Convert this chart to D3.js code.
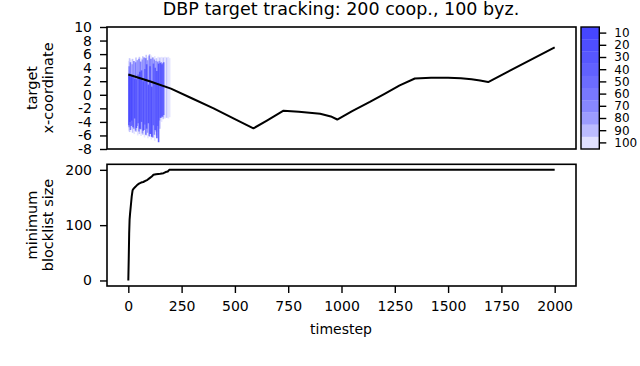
<!DOCTYPE html>
<meta charset="utf-8">
<style>
  body { margin: 0; background: #fff; }
  svg { display: block; font-family: "DejaVu Sans", sans-serif; }
</style>
<svg width="640" height="366"></svg>
<script src="https://d3js.org/d3.v7.min.js"></script>
<script>

// target trajectory (timestep, x-coordinate)
var trackT = [0, 100, 200, 300, 400, 500, 587, 650, 728, 800, 900, 950, 980, 1050, 1133, 1200, 1273, 1344, 1420, 1500, 1560, 1610, 1650, 1688, 2000];
var trackX = [3.0, 2.0, 0.9, -0.55, -2.0, -3.6, -4.95, -3.8, -2.35, -2.5, -2.8, -3.2, -3.65, -2.4, -1.05, 0.1, 1.4, 2.4, 2.5, 2.52, 2.45, 2.3, 2.1, 1.88, 7.0];

// estimate spread: timestep, low, high, level
var spreadT   = [2, 6, 12, 20, 28, 36, 44, 52, 60, 68, 76, 84, 92, 100, 108, 116, 124, 132, 140, 148, 156, 164, 172, 180, 188, 194,
                 4, 10, 18, 26, 34, 42, 50, 58, 66, 74, 82, 90, 98, 106, 114, 122, 130, 138, 146, 154, 162,
                 3, 7, 13, 16, 22, 30, 38, 46, 54, 62, 70, 78, 86, 94, 102, 110, 118, 126, 134, 142, 150, 158, 166];
var spreadLo  = [-5.3, -5.5, -5.0, -5.6, -5.8, -5.5, -6.0, -5.8, -6.1, -5.9, -6.3, -6.0, -6.4, -6.2, -6.6, -6.3, -6.8, -6.0, -5.5, -5.0, -4.0, -3.6, -3.5, -3.4, -3.5, -3.3,
                 -4.8, -5.2, -4.5, -5.0, -5.3, -4.6, -5.4, -5.1, -5.7, -5.2, -5.9, -5.6, -6.1, -5.8, -6.3, -5.9, -5.4, -4.6, -3.8, -3.4, -3.3,
                 -4.5, -4.0, -4.6, -3.8, -4.8, -3.5, -4.9, -4.2, -5.0, -4.0, -5.3, -4.4, -5.0, -4.2, -5.8, -6.2, -4.5, -5.2, -6.4, -7.0, -3.4, -3.2, -3.0];
var spreadHi  = [5.0, 5.4, 5.2, 5.3, 5.0, 5.5, 5.2, 5.6, 5.4, 5.7, 5.5, 5.9, 5.6, 6.0, 5.8, 5.5, 5.7, 5.4, 5.6, 5.5, 5.6, 5.5, 5.6, 5.5, 5.6, 5.4,
                 4.2, 4.8, 4.5, 5.0, 4.8, 5.1, 5.3, 4.9, 5.2, 5.5, 5.4, 5.1, 5.8, 5.3, 5.5, 5.2, 5.0, 4.9, 5.0, 4.8, 4.7,
                 3.0, 2.9, 2.5, 2.8, 2.6, 2.4, 2.3, 3.0, 3.4, 3.6, 2.0, 3.8, 4.5, 1.5, 4.2, 1.2, 4.6, 4.0, 3.5, 4.6, 4.7, 4.5, 4.8];
var spreadLvl = [100, 90, 100, 90, 100, 90, 100, 90, 100, 90, 100, 90, 100, 90, 100, 90, 100, 90, 100, 90, 100, 90, 100, 90, 100, 100,
                 60, 50, 70, 60, 50, 70, 60, 50, 70, 60, 50, 70, 60, 50, 70, 60, 70, 60, 70, 60, 70,
                 20, 10, 30, 10, 20, 10, 20, 30, 10, 20, 10, 30, 20, 10, 20, 10, 30, 20, 10, 10, 20, 10, 30];

// minimum blocklist size
var blockT = [0, 2, 4, 6, 8, 10, 13, 16, 20, 25, 30, 40, 50, 60, 70, 80, 90, 100, 110, 118, 130, 150, 165, 175, 185, 192, 2000];
var blockV = [0, 40, 85, 110, 120, 128, 140, 152, 163, 166, 168, 172, 175, 177, 178, 180, 182, 185, 188, 191, 192, 193, 194, 196, 197, 200, 200];

var levels = [10, 20, 30, 40, 50, 60, 70, 80, 90, 100];
var timeTicks = [0, 250, 500, 750, 1000, 1250, 1500, 1750, 2000];
var coordTicks = [-8, -6, -4, -2, 0, 2, 4, 6, 8, 10];
var blockTicks = [0, 100, 200];

var svg = d3.select("svg");

var x = d3.scaleLinear().domain([-100, 2100]).range([107, 576]);
var yTop = d3.scaleLinear().domain([-8, 10]).range([149, 27]);
var yBot = d3.scaleLinear().domain([-10, 210]).range([286, 164.3]);

var color = d3.scaleOrdinal()
    .domain(levels)
    .range(["#4646ff", "#4e4eff", "#5757ff", "#6161ff", "#6c6cff", "#7878ff", "#8787ff", "#9c9cff", "#bbbbff", "#e0e0ff"]);

// top panel: spread segments, darkest on top
var segs = spreadT.map(function(t, i) {
  return { t: t, lo: spreadLo[i], hi: spreadHi[i], lvl: spreadLvl[i] };
}).sort(function(a, b) { return b.lvl - a.lvl; });

svg.append("g")
  .selectAll("line")
  .data(segs)
  .enter().append("line")
    .attr("x1", function(d) { return x(d.t); })
    .attr("x2", function(d) { return x(d.t); })
    .attr("y1", function(d) { return yTop(d.lo); })
    .attr("y2", function(d) { return yTop(d.hi); })
    .attr("stroke", function(d) { return color(d.lvl); })
    .attr("stroke-width", 1.6)
    .attr("stroke-opacity", 0.85);

var track = trackT.map(function(t, i) { return [t, trackX[i]]; });
svg.append("path")
    .attr("d", d3.line().x(function(d) { return x(d[0]); }).y(function(d) { return yTop(d[1]); })(track))
    .attr("fill", "none")
    .attr("stroke", "#000")
    .attr("stroke-width", 2)
    .attr("stroke-linejoin", "round");

svg.append("rect")
    .attr("x", 107).attr("y", 27).attr("width", 469).attr("height", 122)
    .attr("fill", "none").attr("stroke", "#000").attr("stroke-width", 1.6);

svg.append("g")
    .attr("transform", "translate(107,0)")
    .call(d3.axisLeft(yTop).tickValues(coordTicks).tickSize(7).tickPadding(8).tickSizeOuter(0)
      .tickFormat(function(d) { return d < 0 ? "-" + Math.abs(d) : d; }))
    .call(styleAxis);

// bottom panel
var block = blockT.map(function(t, i) { return [t, blockV[i]]; });
svg.append("path")
    .attr("d", d3.line().x(function(d) { return x(d[0]); }).y(function(d) { return yBot(d[1]); })(block))
    .attr("fill", "none")
    .attr("stroke", "#000")
    .attr("stroke-width", 2)
    .attr("stroke-linejoin", "round");

svg.append("rect")
    .attr("x", 107).attr("y", 164.3).attr("width", 469).attr("height", 121.7)
    .attr("fill", "none").attr("stroke", "#000").attr("stroke-width", 1.6);

svg.append("g")
    .attr("transform", "translate(107,0)")
    .call(d3.axisLeft(yBot).tickValues(blockTicks).tickSize(7).tickPadding(8).tickSizeOuter(0))
    .call(styleAxis);

svg.append("g")
    .attr("transform", "translate(0,286)")
    .call(d3.axisBottom(x).tickValues(timeTicks).tickSize(7).tickPadding(8).tickSizeOuter(0)
      .tickFormat(d3.format("d")))
    .call(styleAxis);

// colorbar
var cb = d3.scaleBand().domain(levels).range([27, 149]);
svg.append("g")
  .selectAll("rect")
  .data(levels)
  .enter().append("rect")
    .attr("x", 581)
    .attr("y", function(d) { return cb(d); })
    .attr("width", 18.3)
    .attr("height", cb.bandwidth() + 0.3)
    .attr("fill", function(d) { return color(d); });
svg.append("rect")
    .attr("x", 581).attr("y", 27).attr("width", 18.3).attr("height", 122)
    .attr("fill", "none").attr("stroke", "#000").attr("stroke-width", 1.4);
var cbAxis = svg.append("g")
    .attr("transform", "translate(599.3,0)")
    .call(d3.axisRight(cb).tickSize(7).tickPadding(8).tickSizeOuter(0))
    .call(styleAxis);
cbAxis.selectAll("text").attr("font-size", 12);

// texts
svg.append("text")
    .attr("x", 341).attr("y", 15)
    .attr("text-anchor", "middle")
    .attr("font-size", 17.5)
    .text("DBP target tracking: 200 coop., 100 byz.");

svg.append("text")
    .attr("x", 341).attr("y", 334)
    .attr("text-anchor", "middle")
    .attr("font-size", 14)
    .text("timestep");

yLabel(["target", "x-coordinate"], 88);
yLabel(["minimum", "blocklist size"], 225);

function yLabel(lines, cy) {
  var t = svg.append("text")
      .attr("transform", "translate(0," + cy + ") rotate(-90)")
      .attr("text-anchor", "middle")
      .attr("font-size", 14.5);
  t.append("tspan").attr("x", 0).attr("y", 37).text(lines[0]);
  t.append("tspan").attr("x", 0).attr("y", 53).text(lines[1]);
}

function styleAxis(g) {
  g.select(".domain").remove();
  g.selectAll("line").attr("stroke", "#000").attr("stroke-width", 1.4);
  g.selectAll("text").attr("fill", "#000").attr("font-size", 14)
    .attr("font-family", "DejaVu Sans, sans-serif");
}
</script>
